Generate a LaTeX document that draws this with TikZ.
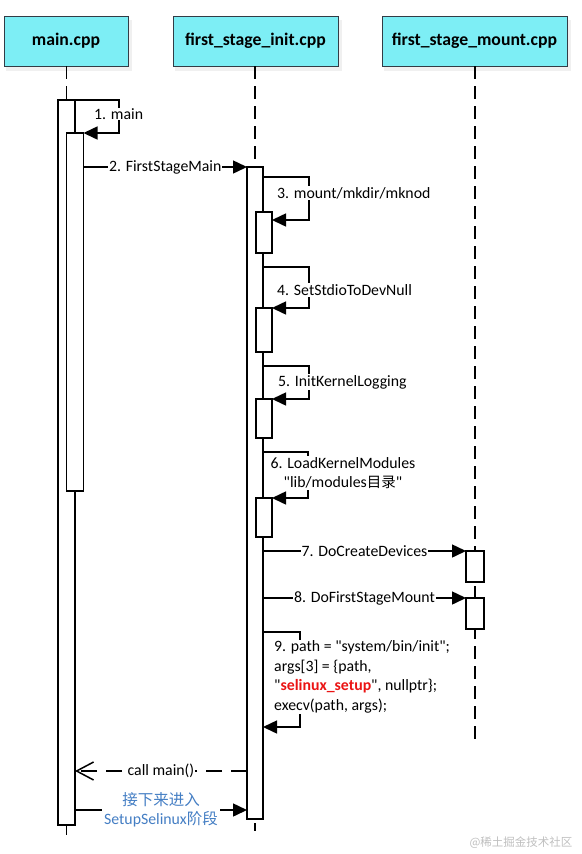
\documentclass[tikz,border=0pt]{standalone}
\usepackage{fontspec}
\setmainfont{Carlito}[Ligatures=TeXOff]
\newfontfamily\cjk{Noto Sans CJK SC}
\usetikzlibrary{arrows.meta}
\definecolor{hdrfill}{RGB}{125,238,245}
\definecolor{hdrline}{RGB}{50,60,70}
\definecolor{bluetxt}{RGB}{68,126,196}
\definecolor{redtxt}{RGB}{235,20,20}
\tikzset{
  hdr/.style={draw=hdrline, line width=1pt, fill=hdrfill, inner sep=0pt, outer sep=0pt,
    minimum height=50pt, font=\fontsize{17.7}{20}\selectfont\bfseries},
  actbar/.style={draw=black, line width=1.5pt, fill=white, inner sep=0pt, outer sep=0pt, anchor=north},
  life/.style={line width=1.5pt, dash pattern=on 13pt off 7pt},
  msg/.style={line width=1.5pt, -{Triangle[length=14pt,width=13pt]}},
  retmsg/.style={line width=1.5pt, dash pattern=on 16pt off 9pt, -{Straight Barb[length=17pt,width=18pt,line width=1.5pt]}},
  lbl/.style={fill=white, inner sep=1pt, font=\fontsize{15.8}{19.5}\selectfont},
}
\begin{document}
\begin{tikzpicture}[x=1pt,y=-1pt]
\useasboundingbox (0,0) rectangle (581,854);
% header shadows
\foreach \a/\b in {4/128,173/338,382/567}{
  \fill[black,opacity=0.06] (\a+2,20) rectangle (\b+4,71);
}
% headers
\node[hdr, minimum width=124pt] (hm) at (66,41) {main.cpp};
\node[hdr, minimum width=165pt] (hi) at (255.5,41) {first\_stage\_init.cpp};
\node[hdr, minimum width=185pt] (ht) at (474.5,41) {first\_stage\_mount.cpp};
% lifelines
\coordinate (mEnd) at (475,745);
\draw[life] (hm.south -| 66.5,0) -- (66.5,100);
\draw[life] (hi.south -| 255,0) -- (255,167);
\draw[life] (ht.south -| 475,0) -- (mEnd);
\draw[line width=1.5pt] (66.5,826) -- (66.5,835);
\draw[line width=1.5pt] (255,823) -- (255,831);
% activation bars
\node[actbar, minimum width=17pt, minimum height=725pt] (mA) at (66.5,100) {};
\node[actbar, minimum width=17pt, minimum height=358pt] (mB) at (75,133) {};
\node[actbar, minimum width=16pt, minimum height=652pt] (iA) at (255,167) {};
\node[actbar, minimum width=16pt, minimum height=41pt] (i3) at (264,212) {};
\node[actbar, minimum width=16pt, minimum height=44pt] (i4) at (264,308) {};
\node[actbar, minimum width=16pt, minimum height=39pt] (i5) at (264,399) {};
\node[actbar, minimum width=16pt, minimum height=39pt] (i6) at (264,498) {};
\node[actbar, minimum width=18pt, minimum height=31pt] (t7) at (475,551) {};
\node[actbar, minimum width=18pt, minimum height=31pt] (t8) at (475,598) {};
% messages
\draw[msg] (mA.north east) -- ++(44,0) |- (mB.north east);
\node[lbl, anchor=west] (l1) at (93,114) {1. main};
\draw[msg] (mB.east |- iA.north west) -- node[lbl] (l2) {2. FirstStageMain} (iA.north west);
\draw[msg] ([yshift=-10pt]iA.north east) -- ++(46,0) |- ([yshift=-8pt]i3.north east);
\node[lbl, anchor=west] (l3) at (276,193) {3. mount/mkdir/mknod};
\draw[msg] ([yshift=-100pt]iA.north east) -- ++(46,0) |- (i4.north east);
\node[lbl, anchor=west] (l4) at (276,290) {4. SetStdioToDevNull};
\draw[msg] ([yshift=-199pt]iA.north east) -- ++(46,0) |- (i5.north east);
\node[lbl, anchor=west] (l5) at (277,382) {5. InitKernelLogging};
\draw[msg] ([yshift=-285pt]iA.north east) -- ++(45,0) |- (i6.north east);
\node[lbl, align=center] (l6) at (343,473) {6. LoadKernelModules\\"lib/modules{\cjk\fontsize{14.5}{19.5}\selectfont 目录}"};
\draw[msg] (iA.east |- t7.north west) -- node[lbl] (l7) {7. DoCreateDevices} (t7.north west);
\draw[msg] (iA.east |- t8.north west) -- node[lbl] (l8) {8. DoFirstStageMount} (t8.north west);
\draw[msg] ([yshift=-465pt]iA.north east) -- ++(37,0) |- ([yshift=-560pt]iA.north east);
\node[lbl, anchor=west, align=left] (l9) at (273,677) {9. path = "system/bin/init";\\args[3] = \{path,\\"\textcolor{redtxt}{\bfseries selinux\_setup}", nullptr\};\\execv(path, args);};
% return
\coordinate (cm) at ([yshift=-604pt]iA.north west);
\draw[retmsg] (cm) -- node[lbl] (lc) {call main()} (mA.east |- cm);
% next step
\coordinate (nx) at ([yshift=-710pt]mA.north east);
\draw[msg] (nx) -- node[lbl, align=center, text=bluetxt, inner sep=2pt] (lb) {{\cjk\fontsize{15.5}{21}\selectfont 接下来进入}\\SetupSelinux{\cjk\fontsize{15.5}{21}\selectfont 阶段}} (iA.west |- nx);
% watermark
\node[anchor=east, text=black!25, font=\cjk\fontsize{11.5}{13}\selectfont] (wm) at (576,843) {@稀土掘金技术社区};
\end{tikzpicture}
\end{document}
